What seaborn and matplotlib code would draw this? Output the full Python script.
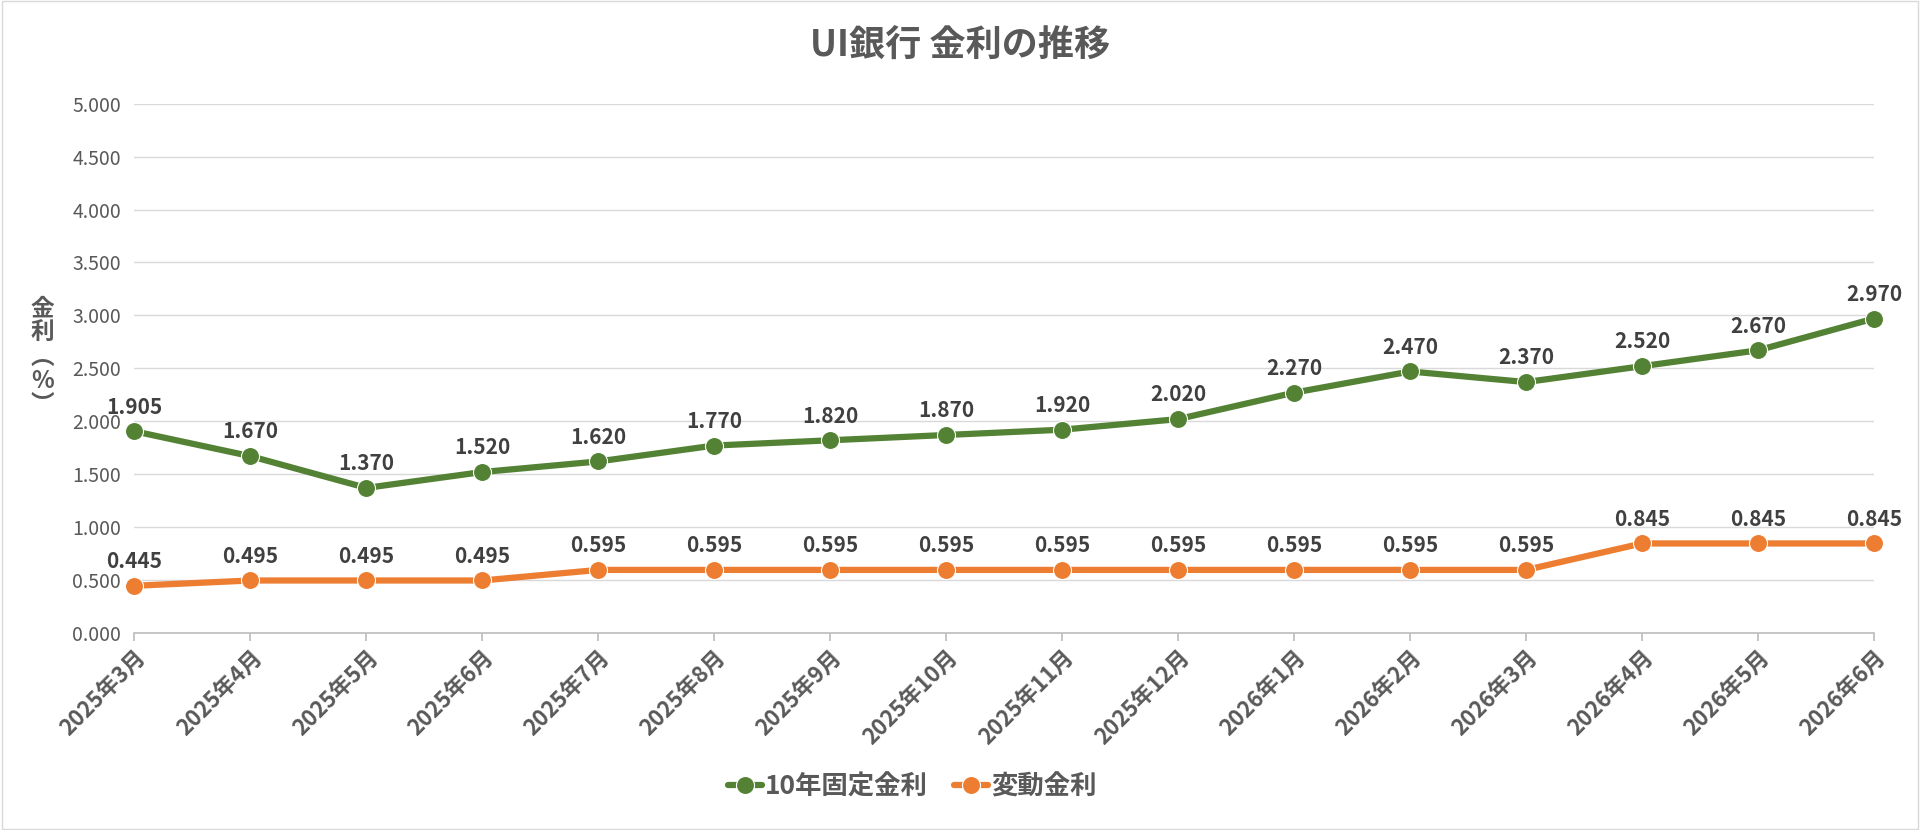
import matplotlib
matplotlib.use("Agg")
import matplotlib.pyplot as plt
import seaborn as sns
import pandas as pd

months = ["2025年3月","2025年4月","2025年5月","2025年6月","2025年7月","2025年8月","2025年9月","2025年10月",
          "2025年11月","2025年12月","2026年1月","2026年2月","2026年3月","2026年4月","2026年5月","2026年6月"]
fixed10 = [1.905,1.670,1.370,1.520,1.620,1.770,1.820,1.870,1.920,2.020,2.270,2.470,2.370,2.520,2.670,2.970]
variable = [0.445,0.495,0.495,0.495,0.595,0.595,0.595,0.595,0.595,0.595,0.595,0.595,0.595,0.845,0.845,0.845]
series_names = ["10年固定金利", "変動金利"]
colors = ["#548235", "#ED7D31"]

sns.set_theme(style="white")
plt.rcParams['font.family'] = ['Noto Sans CJK JP', 'DejaVu Sans']

df = pd.DataFrame({
    "x": list(range(len(months))) * 2,
    "v": fixed10 + variable,
    "s": [series_names[0]] * len(months) + [series_names[1]] * len(months),
})

fig = plt.figure(figsize=(19.2, 8.3), dpi=100)
ax = fig.add_axes([0.070, 0.2375, 0.906, 0.6375])
sns.lineplot(data=df, x="x", y="v", hue="s", palette=colors, marker="o", markersize=13,
             linewidth=4.5, markeredgecolor="white", markeredgewidth=0.8, ax=ax, clip_on=False)
grey = "#595959"
for vals in (fixed10, variable):
    for i, v in enumerate(vals):
        ax.text(i, v + 0.13, f"{v:.3f}", ha="center", va="bottom", fontsize=15,
                fontweight="bold", color="#404040")
ax.set_xlim(0, len(months) - 1)
ax.set_ylim(0, 5)
ax.set_yticks([i * 0.5 for i in range(11)])
ax.set_yticklabels([f"{i*0.5:.3f}" for i in range(11)], fontsize=14, color=grey)
ax.set_xticks(range(len(months)))
ax.set_xticklabels(months, rotation=45, ha="right", rotation_mode="anchor",
                   fontsize=16, fontweight="bold", color=grey)
ax.tick_params(axis="x", length=6, color="#bfbfbf", direction="out", bottom=True)
ax.grid(axis="y", color="#d9d9d9", linewidth=1)
for s in ["top", "right", "left"]:
    ax.spines[s].set_visible(False)
ax.spines["bottom"].set_color("#bfbfbf")
ax.set_xlabel("")
ax.set_ylabel("")
fig.text(0.022, 0.57, "金\n利\n︵\n%\n︶", ha="center", va="center", fontsize=17,
         fontweight="bold", color=grey, linespacing=1.0)
fig.text(0.5, 0.945, "UI銀行 金利の推移", ha="center", va="center", fontsize=26,
         fontweight="bold", color=grey)
handles, labels = ax.get_legend_handles_labels()
ax.legend_.remove()
leg = fig.legend(handles, labels, loc="center", bbox_to_anchor=(0.475, 0.052), ncol=2,
                 frameon=False, fontsize=19, handlelength=1.3, handletextpad=0.1,
                 columnspacing=1.0)
for t in leg.get_texts():
    t.set_fontweight("bold"); t.set_color(grey)
fig.patches.append(plt.Rectangle((0.001, 0.001), 0.998, 0.998, transform=fig.transFigure,
                                 fill=False, edgecolor="#d9d9d9", linewidth=1))
fig.savefig("out.png", dpi=100)
